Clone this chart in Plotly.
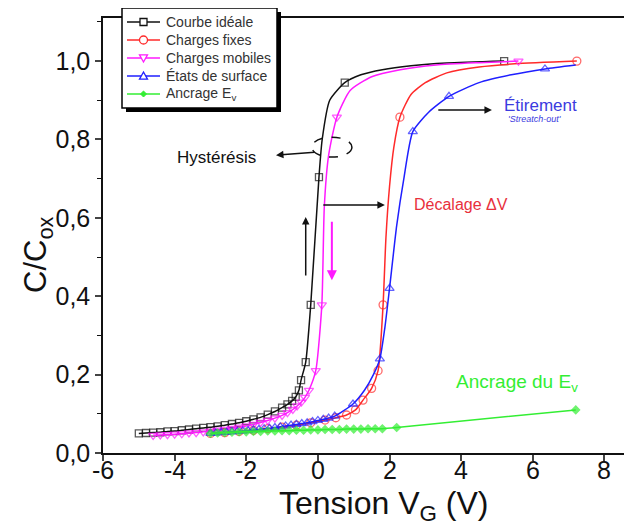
import plotly.graph_objects as go

# ---------------- data ----------------
ideal_v = [-5.0, -4.8, -4.6, -4.4, -4.2, -4.0, -3.8, -3.6, -3.4, -3.2, -3.0, -2.8, -2.6, -2.4, -2.2,
           -2.0, -1.8, -1.6, -1.4, -1.2, -1.0, -0.85, -0.72, -0.62, -0.53, -0.47, -0.34, -0.2, 0.03,
           0.12, 0.33, 0.75, 1.2, 1.8, 2.6, 3.6, 5.2]
ideal_c = [0.050, 0.051, 0.052, 0.053, 0.055, 0.056, 0.058, 0.060, 0.062, 0.064, 0.066, 0.068, 0.071,
           0.074, 0.077, 0.081, 0.086, 0.091, 0.098, 0.106, 0.116, 0.124, 0.133, 0.143, 0.160, 0.186,
           0.232, 0.378, 0.704, 0.80, 0.90, 0.945, 0.965, 0.978, 0.988, 0.995, 1.0]

fixed_v = [-3.0, -2.6, -2.2, -1.8, -1.4, -1.0, -0.6, -0.2, 0.2, 0.5, 0.8, 1.05, 1.26, 1.5, 1.68, 1.82,
           1.9, 2.0, 2.12, 2.29, 2.6, 3.0, 3.6, 4.5, 5.5, 7.23]
fixed_c = [0.050, 0.052, 0.055, 0.058, 0.062, 0.066, 0.071, 0.077, 0.084, 0.090, 0.097, 0.110, 0.135,
           0.165, 0.21, 0.378, 0.55, 0.68, 0.78, 0.857, 0.915, 0.945, 0.970, 0.985, 0.993, 1.0]

mobile_v = [-4.6, -4.4, -4.2, -4.0, -3.8, -3.6, -3.4, -3.2, -3.0, -2.8, -2.6, -2.4, -2.2, -2.0, -1.8,
            -1.6, -1.4, -1.2, -1.0, -0.85, -0.7, -0.58, -0.46, -0.36, -0.25, -0.06, 0.11, 0.18, 0.3,
            0.53, 0.9, 1.5, 2.3, 3.3, 4.5, 5.6]
mobile_c = [0.045, 0.046, 0.047, 0.048, 0.049, 0.051, 0.052, 0.054, 0.056, 0.058, 0.060, 0.063, 0.066,
            0.069, 0.073, 0.078, 0.083, 0.089, 0.096, 0.103, 0.111, 0.120, 0.130, 0.142, 0.160, 0.210,
            0.378, 0.63, 0.76, 0.857, 0.925, 0.96, 0.978, 0.99, 0.996, 1.0]

surface_v = [-3.0, -2.85, -2.7, -2.55, -2.4, -2.25, -2.1, -1.95, -1.8, -1.65, -1.5, -1.35, -1.2, -1.05,
             -0.9, -0.75, -0.6, -0.45, -0.3, -0.15, 0.0, 0.15, 0.3, 0.47, 0.98, 1.3, 1.55, 1.73, 1.87,
             2.0, 2.2, 2.4, 2.65, 3.1, 3.66, 4.5, 5.4, 6.34, 7.2]
surface_c = [0.050, 0.051, 0.052, 0.053, 0.054, 0.055, 0.056, 0.057, 0.059, 0.060, 0.062, 0.063, 0.065,
             0.067, 0.069, 0.071, 0.073, 0.075, 0.077, 0.080, 0.083, 0.086, 0.089, 0.094, 0.125, 0.16,
             0.20, 0.24, 0.32, 0.42, 0.58, 0.70, 0.82, 0.87, 0.91, 0.945, 0.965, 0.98, 0.99]

pinning_v = [-3.0, -2.8, -2.6, -2.4, -2.2, -2.0, -1.8, -1.6, -1.4, -1.2, -1.0, -0.8, -0.6, -0.4, -0.2,
             0.0, 0.2, 0.4, 0.6, 0.8, 1.0, 1.2, 1.4, 1.6, 1.8, 2.2, 7.2]
pinning_c = [0.050, 0.051, 0.052, 0.053, 0.054, 0.054, 0.055, 0.055, 0.056, 0.056, 0.057, 0.057, 0.058,
             0.058, 0.059, 0.059, 0.060, 0.060, 0.060, 0.061, 0.061, 0.061, 0.062, 0.062, 0.062, 0.065,
             0.11]

series_names = ["Courbe idéale", "Charges fixes", "Charges mobiles", "États de surface", "Ancrage E<sub>v</sub>"]

x_ticks = [-6, -4, -2, 0, 2, 4, 6, 8]
x_tick_labels = ["-6", "-4", "-2", "0", "2", "4", "6", "8"]
y_ticks = [0.0, 0.2, 0.4, 0.6, 0.8, 1.0]
y_tick_labels = ["0,0", "0,2", "0,4", "0,6", "0,8", "1,0"]

# --------------- styling / geometry ----------------
FONT = "Liberation Sans, Arial, sans-serif"
BLACK, RED, MAG, BLUE, GREEN = "#111111", "#ff2a2a", "#ff1aff", "#1f1fff", "#33ee33"

# page is drawn with an 8px body margin; plot area in page pixels: x 103..632, y 18..453
PL, PR, PT, PB = 103, 632, 18, 453
def px(xp):
    return (xp - PL) / (PR - PL)
def py(yp):
    return (PB - yp) / (PB - PT)

hide = {
    0: {0.12, 0.33, 1.2, 1.8, 2.6, 3.6},
    1: {1.9, 2.0, 2.12, 2.6, 3.0, 3.6, 4.5, 5.5},
    2: {0.18, 0.3, 0.9, 1.5, 2.3, 3.3, 4.5},
    3: {1.3, 1.55, 1.87, 2.2, 2.4, 3.1, 4.5, 5.4, 7.2},
    4: set(),
}
styles = [
    (ideal_v, ideal_c, BLACK, "square-open", 7),
    (fixed_v, fixed_c, RED, "circle-open", 8),
    (mobile_v, mobile_c, MAG, "triangle-down-open", 8),
    (surface_v, surface_c, BLUE, "triangle-up-open", 8),
    (pinning_v, pinning_c, GREEN, "diamond", 6),
]

fig = go.Figure()
for i, (vx, cy, col, sym, ms) in enumerate(styles):
    sizes = [0 if v in hide[i] else ms for v in vx]
    fig.add_trace(go.Scatter(
        x=vx, y=cy, mode="lines+markers", showlegend=False, name=series_names[i],
        line=dict(color=col, width=1.5, shape="spline", smoothing=0.6),
        marker=dict(symbol=sym, size=sizes, color=col, line=dict(color=col, width=1.3)),
    ))

shapes = []
ann = []

# ---- hand-drawn legend box (with drop shadow) ----
LB = dict(x0=122, x1=277, y0=8, y1=108)
shapes.append(dict(type="rect", xref="paper", yref="paper", x0=px(LB["x0"] + 4), x1=px(LB["x1"] + 4),
                   y0=py(LB["y1"] + 4), y1=py(LB["y0"] + 4), fillcolor="black", line=dict(width=0)))
shapes.append(dict(type="rect", xref="paper", yref="paper", x0=px(LB["x0"]), x1=px(LB["x1"]),
                   y0=py(LB["y1"]), y1=py(LB["y0"]), fillcolor="white", line=dict(color="black", width=1.5)))

def pathp(points):
    return "M " + " L ".join(f"{px(a):.5f},{py(b):.5f}" for a, b in points) + " Z"

entry_y = [22, 40, 58, 76, 94]
MX = 143.5
for i, (vx, cy, col, sym, ms) in enumerate(styles):
    yc = entry_y[i]
    yy = py(yc)
    shapes.append(dict(type="line", xref="paper", yref="paper", x0=px(127), x1=px(160), y0=yy, y1=yy,
                       line=dict(color=col, width=1.5)))
    h = ms / 2
    if sym == "square-open":
        shapes.append(dict(type="rect", xref="paper", yref="paper", x0=px(MX - h), x1=px(MX + h),
                           y0=py(yc + h), y1=py(yc - h), fillcolor="white", line=dict(color=col, width=1.3)))
    elif sym == "circle-open":
        shapes.append(dict(type="circle", xref="paper", yref="paper", x0=px(MX - h), x1=px(MX + h),
                           y0=py(yc + h), y1=py(yc - h), fillcolor="white", line=dict(color=col, width=1.3)))
    elif sym == "triangle-down-open":
        shapes.append(dict(type="path", xref="paper", yref="paper",
                           path=pathp([(MX - h, yc - h * 0.8), (MX + h, yc - h * 0.8), (MX, yc + h)]),
                           fillcolor="white", line=dict(color=col, width=1.3)))
    elif sym == "triangle-up-open":
        shapes.append(dict(type="path", xref="paper", yref="paper",
                           path=pathp([(MX - h, yc + h * 0.8), (MX + h, yc + h * 0.8), (MX, yc - h)]),
                           fillcolor="white", line=dict(color=col, width=1.3)))
    else:
        shapes.append(dict(type="path", xref="paper", yref="paper",
                           path=pathp([(MX - h, yc), (MX, yc - h), (MX + h, yc), (MX, yc + h)]),
                           fillcolor=col, line=dict(color=col, width=1)))
    ann.append(dict(x=px(164), y=yy, xref="paper", yref="paper", text=series_names[i], showarrow=False,
                    xanchor="left", yanchor="middle", font=dict(family=FONT, size=14, color="#333333")))

def arrow(xh, yh, xt, yt, col=BLACK, w=1.5, size=1.0):
    ann.append(dict(x=xh, y=yh, ax=xt, ay=yt, xref="x", yref="y", axref="x", ayref="y",
                    showarrow=True, arrowhead=2, arrowsize=size, arrowwidth=w, arrowcolor=col, text=""))

arrow(-1.17, 0.760, -0.05, 0.768)              # hysteresis
arrow(-0.34, 0.602, -0.34, 0.449)              # up arrow
arrow(0.39, 0.441, 0.39, 0.594, col=MAG, w=2)  # down arrow
arrow(1.87, 0.633, 0.11, 0.633)                # shift
arrow(4.86, 0.875, 3.32, 0.875)                # stretch-out

def text(x, y, s, col, size, anchor="left", italic=False):
    ann.append(dict(x=x, y=y, xref="x", yref="y", text=s, showarrow=False, xanchor=anchor, yanchor="middle",
                    font=dict(family=FONT, size=size, color=col,
                              style="italic" if italic else "normal")))

text(-2.82, 0.755, "Hystérésis", BLACK, 17, anchor="center")
text(2.63, 0.633, "Décalage ΔV", "#e8303c", 16)
text(5.15, 0.888, "Étirement", "#3b3be0", 17)
text(5.25, 0.852, "'Streatch-out'", "#3b3be0", 9, italic=True)
text(3.8, 0.179, "Ancrage du E<sub>v</sub>", GREEN, 19)

# x tick labels placed as text just under the axis
for tv, tl in zip(x_ticks, x_tick_labels):
    ann.append(dict(x=tv, y=py(470), xref="x", yref="paper", text=tl, showarrow=False,
                    xanchor="center", yanchor="middle", font=dict(family=FONT, size=25, color=BLACK)))

# axis titles
ann.append(dict(x=px(384), y=py(505), xref="paper", yref="paper", text="Tension V<sub>G</sub> (V)",
                showarrow=False, xanchor="center", yanchor="middle", font=dict(family=FONT, size=32, color=BLACK)))
ann.append(dict(x=px(38), y=py(255), xref="paper", yref="paper", text="C/C<sub>ox</sub>", textangle=-90,
                showarrow=False, xanchor="center", yanchor="middle", font=dict(family=FONT, size=31, color=BLACK)))

shapes.append(dict(type="circle", xref="x", yref="y", x0=-0.17, x1=0.95, y0=0.755, y1=0.806,
                   line=dict(color=BLACK, width=1.5, dash="dash")))

fig.update_layout(
    width=624, height=518,
    margin=dict(l=PL - 8, r=0, t=PT - 8, b=518 - (PB - 8), autoexpand=False),
    paper_bgcolor="white", plot_bgcolor="white",
    font=dict(family=FONT, color=BLACK),
    annotations=ann, shapes=shapes, showlegend=False,
    xaxis=dict(range=[-6, 8.77], tickvals=x_ticks, ticks="outside", ticklen=6, showticklabels=False,
               tickwidth=1.5, showline=True, linecolor=BLACK, linewidth=1.5, mirror=True, showgrid=False,
               zeroline=False, automargin=False),
    yaxis=dict(range=[0, 1.11], tickvals=y_ticks, ticktext=y_tick_labels, ticks="outside", ticklen=6,
               tickwidth=1.5, showline=True, linecolor=BLACK, linewidth=1.5, showgrid=False, zeroline=False,
               minor=dict(dtick=0.1, ticks="outside", ticklen=4, tickwidth=1.2, tickcolor=BLACK),
               tickfont=dict(size=25, family=FONT), automargin=False),
)

fig.write_html("out.html")
